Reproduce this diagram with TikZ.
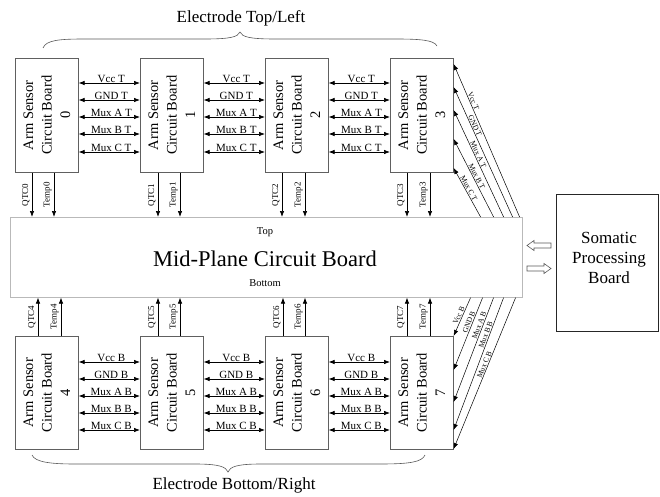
\documentclass[tikz,border=0pt]{standalone}
\usepackage{fontspec}
\setmainfont{Liberation Serif}
\usetikzlibrary{arrows.meta,calc}
\begin{document}
\begin{tikzpicture}[x=1pt,y=-1pt,
  board/.style={draw=gray!75!black, line width=0.6pt, minimum width=63, minimum height=114, anchor=north west, inner sep=0pt},
  boardtxt/.style={rotate=90, align=center, inner sep=0pt, font=\fontsize{14.5}{18.5}\selectfont},
  hlink/.style={{Latex[length=6pt,width=4.5pt]}-{Latex[length=6pt,width=4.5pt]}, line width=0.7pt},
  hlab/.style={above, inner sep=0.2pt, xshift=2pt, font=\fontsize{11}{11}\selectfont},
  vlink/.style={-{Latex[length=6pt,width=4.5pt]}, line width=0.7pt},
  vlab/.style={rotate=90, anchor=south, inner sep=2pt, font=\fontsize{9}{9}\selectfont},
  dlink/.style={{Latex[length=6pt,width=4.5pt]}-, line width=0.5pt},
  dlab/.style={sloped, above, inner sep=0.8pt, font=\fontsize{7.5}{7.5}\selectfont},
  brace/.style={draw=gray!70!black, line width=0.6pt},
  hollow/.style={draw=gray!70!black, line width=0.6pt, fill=white}
]
\useasboundingbox (0,0) rectangle (660,497);

% mid-plane board
\node[draw=gray!55, line width=0.6pt, minimum width=512, minimum height=80, anchor=north west, inner sep=0pt] (mid) at (10,217) {};
\node[font=\fontsize{22.5}{22.5}\selectfont] (midtxt) at (265,259) {Mid-Plane Circuit Board};
\node[font=\fontsize{10.5}{10.5}\selectfont] (midtop) at (265,232) {Top};
\node[font=\fontsize{10.5}{10.5}\selectfont] (midbot) at (265,283) {Bottom};

% somatic board
\node[draw=black!85, line width=0.7pt, minimum width=102, minimum height=137, anchor=north west, inner sep=0pt] (som) at (556,194) {};
\node[align=center, font=\fontsize{17}{20}\selectfont] (somtxt) at (609,258) {Somatic\\Processing\\Board};

% hollow arrows between mid-plane and somatic
\draw[hollow] (527,245.5) -- (534,240.5) -- (534,243) -- (551,243) -- (551,248) -- (534,248) -- (534,250.5) -- cycle;
\draw[hollow] (551,268.5) -- (544,263.5) -- (544,266) -- (527,266) -- (527,271) -- (544,271) -- (544,273.5) -- cycle;

% top boards
\foreach \i/\x in {0/15,1/140,2/265,3/390} {
  \node[board] (b\i) at (\x,58) {};
  \node[boardtxt] (b\i t) at (b\i.center) {Arm Sensor\\Circuit Board\\\i};
}
% bottom boards
\foreach \i/\x in {4/15,5/140,6/265,7/390} {
  \node[board, minimum height=113] (b\i) at (\x,336) {};
  \node[boardtxt] (b\i t) at (b\i.center) {Arm Sensor\\Circuit Board\\\i};
}

% horizontal links top
\foreach \a/\b in {0/1,1/2,2/3} {
  \foreach \dy/\lab in {25/Vcc T,42/GND T,59/Mux A T,76/Mux B T,94/Mux C T} {
    \draw[hlink] ([yshift=-\dy]b\a.north east) -- ([yshift=-\dy]b\b.north west) node[hlab,midway]{\lab};
  }
}
% horizontal links bottom
\foreach \a/\b in {4/5,5/6,6/7} {
  \foreach \dy/\lab in {26/Vcc B,43/GND B,60/Mux A B,77/Mux B B,94/Mux C B} {
    \draw[hlink] ([yshift=-\dy]b\a.north east) -- ([yshift=-\dy]b\b.north west) node[hlab,midway]{\lab};
  }
}

% vertical links top
\foreach \i/\q/\t in {0/17/39,1/18/40,2/17/40,3/17/40} {
  \draw[vlink] ([xshift=\q]b\i.south west) coordinate (qs) -- (qs |- mid.north) node[vlab,midway]{QTC\i};
  \draw[vlink] ([xshift=\t]b\i.south west) coordinate (ts) -- (ts |- mid.north) node[vlab,midway]{Temp\i};
}
% vertical links bottom
\foreach \i/\q/\t in {4/23/46,5/18/40,6/18/40,7/17/40} {
  \draw[vlink] ([xshift=\q]b\i.north west) coordinate (qs) -- (qs |- mid.south) node[vlab,midway]{QTC\i};
  \draw[vlink] ([xshift=\t]b\i.north west) coordinate (ts) -- (ts |- mid.south) node[vlab,midway]{Temp\i};
}

% diagonal links top (board 3 to mid-plane)
\foreach \dy/\dx/\lab/\p in {6/3/Vcc T/0.25, 29/10/GND T/0.31, 52/19/Mux A T/0.43, 81/29/Mux B T/0.5, 110/42/Mux C T/0.45} {
  \draw[dlink] ([yshift=-\dy]b3.north east) -- ([xshift=-\dx]mid.north east) node[dlab,pos=\p]{\lab};
}
% diagonal links bottom (board 7 to mid-plane)
\foreach \dy/\dx/\lab/\p in {0/52/Vcc B/0.5, 34/40/GND B/0.64, 66/29/Mux A B/0.72, 94/19/Mux B B/0.71, 113/7/Mux C B/0.55} {
  \draw[dlink] ([yshift=-\dy]b7.north east) -- ([xshift=-\dx]mid.south east) node[dlab,pos=\p]{\lab};
}

% braces
\draw[brace] (43,48) .. controls (46,40) and (60,39) .. (85,39) -- (205,39) .. controls (230,39) and (238,37) .. (240,32) .. controls (242,37) and (250,39) .. (275,39) -- (395,39) .. controls (420,39) and (434,40) .. (437,46);
\node[font=\fontsize{17}{17}\selectfont] (eltop) at (241,18) {Electrode Top/Left};
\draw[brace] (32,455) .. controls (35,462) and (50,464) .. (75,464) -- (195,464) .. controls (220,464) and (226,467) .. (228,472) .. controls (230,467) and (236,464) .. (261,464) -- (380,464) .. controls (410,464) and (422,462) .. (425,455);
\node[font=\fontsize{17}{17}\selectfont] (elbot) at (234,485) {Electrode Bottom/Right};
\end{tikzpicture}
\end{document}
